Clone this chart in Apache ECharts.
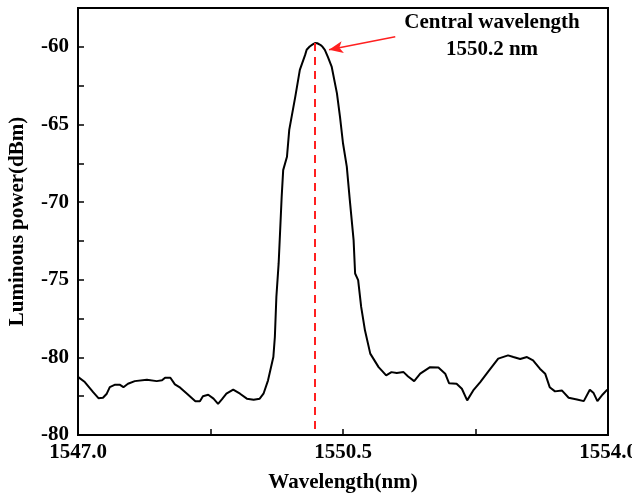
<!DOCTYPE html>
<html>
<head>
<meta charset="utf-8">
<script src="https://cdn.jsdelivr.net/npm/echarts@6/dist/echarts.min.js"></script>
<style>html,body{margin:0;padding:0;background:#fff}#c{width:632px;height:498px}</style>
</head>
<body>
<div id="c"></div>
<script>
var wavelength = [1547.004,1547.09,1547.20,1547.27,1547.33,1547.38,1547.42,1547.49,1547.55,1547.60,1547.66,1547.75,1547.91,1548.04,1548.11,1548.15,1548.22,1548.28,1548.35,1548.44,1548.55,1548.61,1548.65,1548.72,1548.79,1548.85,1548.90,1548.96,1549.05,1549.14,1549.23,1549.32,1549.40,1549.45,1549.51,1549.58,1549.60,1549.62,1549.65,1549.67,1549.69,1549.71,1549.76,1549.79,1549.87,1549.93,1550.00,1550.02,1550.06,1550.10,1550.13,1550.16,1550.20,1550.23,1550.26,1550.30,1550.35,1550.42,1550.46,1550.50,1550.55,1550.59,1550.64,1550.66,1550.70,1550.74,1550.79,1550.86,1550.97,1551.01,1551.07,1551.14,1551.21,1551.30,1551.36,1551.44,1551.52,1551.65,1551.76,1551.85,1551.90,1552.00,1552.07,1552.14,1552.22,1552.31,1552.42,1552.55,1552.68,1552.75,1552.84,1552.93,1553.01,1553.10,1553.17,1553.23,1553.30,1553.39,1553.48,1553.59,1553.68,1553.76,1553.81,1553.86,1553.93,1553.99];
var power = [-81.27,-81.59,-82.24,-82.63,-82.60,-82.34,-81.92,-81.76,-81.76,-81.92,-81.70,-81.53,-81.44,-81.53,-81.48,-81.31,-81.31,-81.74,-81.95,-82.34,-82.82,-82.82,-82.50,-82.41,-82.66,-82.99,-82.71,-82.34,-82.08,-82.34,-82.66,-82.73,-82.66,-82.34,-81.48,-79.98,-78.69,-76.11,-73.95,-71.81,-69.66,-67.94,-67.08,-65.35,-63.21,-61.48,-60.52,-60.19,-59.98,-59.84,-59.76,-59.77,-59.87,-60.0,-60.19,-60.65,-61.27,-63.00,-64.50,-66.21,-67.72,-69.87,-72.45,-74.60,-75.03,-76.75,-78.26,-79.76,-80.63,-80.84,-81.16,-80.95,-81.01,-80.95,-81.23,-81.53,-81.05,-80.63,-80.66,-81.05,-81.66,-81.70,-82.02,-82.77,-82.13,-81.61,-80.90,-80.08,-79.87,-79.98,-80.11,-79.98,-80.19,-80.73,-81.05,-81.92,-82.19,-82.13,-82.60,-82.71,-82.82,-82.08,-82.30,-82.82,-82.39,-82.08];
var xTicks = [1547.0, 1550.5, 1554.0];
var yTickLabels = {"-85":"-80","-80":"-80","-75":"-75","-70":"-70","-65":"-65","-60":"-60"};
var peakWavelength = 1550.13;
var peakPower = -59.76;
var arrowFrom = [1551.19, -59.35];
var arrowTo = [1550.315, -60.19];
var annotationLines = ["Central wavelength", "1550.2 nm"];

var font = '"Liberation Serif", "Times New Roman", serif';
var chart = echarts.init(document.getElementById('c'));
var data = wavelength.map(function(w, i){ return [w, power[i]]; });
chart.setOption({
  animation: false,
  backgroundColor: '#fff',
  grid: {left: 78, right: 24, top: 8, bottom: 63, show: true, borderColor: '#000', borderWidth: 2, containLabel: false, outerBoundsMode: 'none'},
  xAxis: {
    type: 'value', min: xTicks[0], max: xTicks[2], interval: 3.5,
    name: 'Wavelength(nm)', nameLocation: 'middle', nameGap: 37,
    nameTextStyle: {fontFamily: font, fontWeight: 'bold', fontSize: 21, color: '#000'},
    axisLine: {lineStyle: {color: '#000', width: 2}},
    axisTick: {inside: true, length: 6, lineStyle: {color: '#000', width: 1.5}},
    minorTick: {show: true, splitNumber: 2, length: 6, lineStyle: {color: '#000', width: 1.5}},
    splitLine: {show: false},
    axisLabel: {fontFamily: font, fontWeight: 'bold', fontSize: 21, color: '#000', margin: 7,
      formatter: function(v){ return v.toFixed(1); }}
  },
  yAxis: {
    type: 'value', min: -85, max: -57.5, interval: 5,
    name: 'Luminous power(dBm)', nameLocation: 'middle', nameGap: 50,
    nameTextStyle: {fontFamily: font, fontWeight: 'bold', fontSize: 21, color: '#000'},
    axisLine: {lineStyle: {color: '#000', width: 2}},
    axisTick: {inside: true, length: 6, lineStyle: {color: '#000', width: 1.5}},
    minorTick: {show: true, splitNumber: 2, length: 6, lineStyle: {color: '#000', width: 1.5}},
    splitLine: {show: false},
    axisLabel: {fontFamily: font, fontWeight: 'bold', fontSize: 21, color: '#000', margin: 9,
      formatter: function(v){ var k = String(Math.round(v*10)/10); return yTickLabels[k] !== undefined ? yTickLabels[k] : ''; }}
  },
  series: [{
    type: 'line', data: data, symbol: 'none', smooth: false,
    lineStyle: {color: '#000', width: 2},
    markLine: {
      silent: true, animation: false,
      data: [
        [{coord: [peakWavelength, peakPower], symbol: 'none', lineStyle: {color: '#ff2020', type: [8, 6], width: 2}},
         {coord: [peakWavelength, -85], symbol: 'none'}],
        [{coord: arrowFrom, symbol: 'none', lineStyle: {color: '#ff2020', type: 'solid', width: 1.5}},
         {coord: arrowTo, symbol: 'arrow', symbolSize: [9, 14]}]
      ],
      label: {show: false}
    }
  }],
  graphic: [
    {type: 'text', x: 0, y: 0, style: {text: annotationLines[0], x: 492, y: 23, align: 'center', verticalAlign: 'middle', font: 'bold 21px ' + font, fill: '#000'}},
    {type: 'text', x: 0, y: 0, style: {text: annotationLines[1], x: 492, y: 50, align: 'center', verticalAlign: 'middle', font: 'bold 21px ' + font, fill: '#000'}}
  ]
});
</script>
</body>
</html>
